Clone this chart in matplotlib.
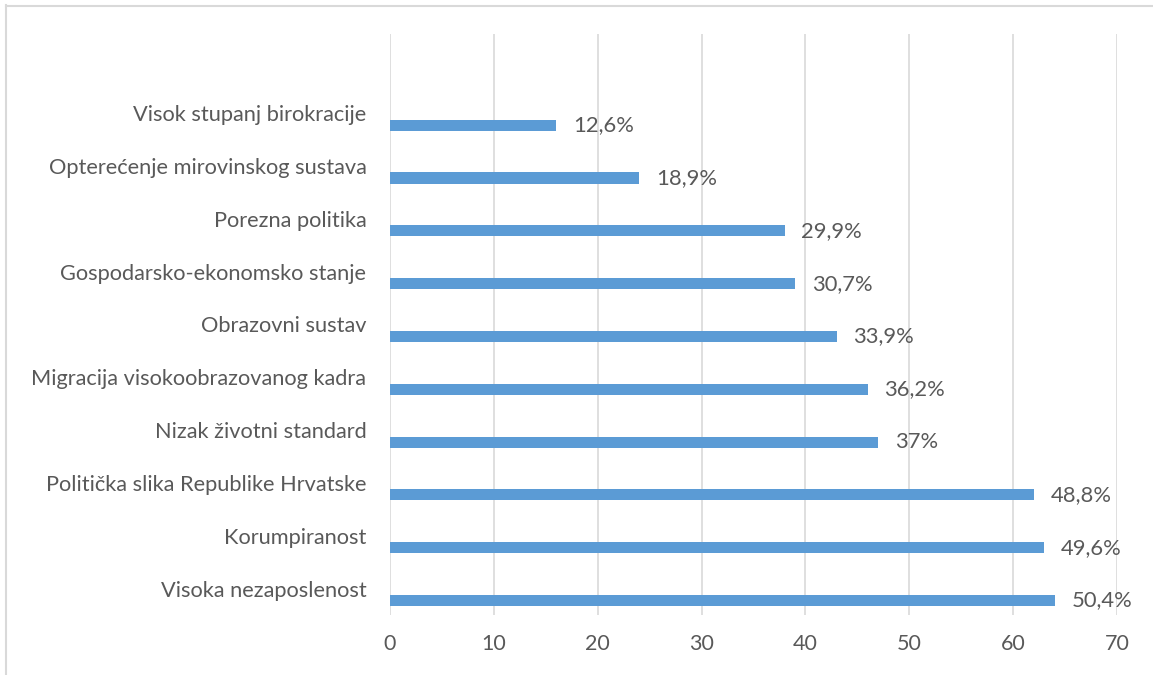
import matplotlib
matplotlib.use("Agg")
import matplotlib.pyplot as plt
from matplotlib.lines import Line2D

categories = [
    "Visoka nezaposlenost",
    "Korumpiranost",
    "Politička slika Republike Hrvatske",
    "Nizak životni standard",
    "Migracija visokoobrazovanog kadra",
    "Obrazovni sustav",
    "Gospodarsko-ekonomsko stanje",
    "Porezna politika",
    "Opterećenje mirovinskog sustava",
    "Visok stupanj birokracije",
]
values = [64, 63, 62, 47, 46, 43, 39, 38, 24, 16]
labels = ["50,4%", "49,6%", "48,8%", "37%", "36,2%", "33,9%", "30,7%", "29,9%", "18,9%", "12,6%"]
xticks = [0, 10, 20, 30, 40, 50, 60, 70]

plt.rcParams['font.family'] = ['Lato', 'DejaVu Sans']
text_color = "#595959"

fig = plt.figure(figsize=(11.53, 6.75), dpi=100)
ax = fig.add_axes([390/1153, 1 - 615/675, (1117-390)/1153, (615-34)/675])

pos = list(range(len(categories)))
bar_offset = 0.227
ax.barh([p - bar_offset for p in pos], values, height=0.21, color="#5B9BD5", zorder=3)

for p, v, lab in zip(pos, values, labels):
    ax.annotate(lab, (v, p - bar_offset), xytext=(12, 0), textcoords="offset points",
                va="center", ha="left", fontsize=15.8, color=text_color)

ax.set_xlim(0, 70)
ax.set_ylim(-0.5, 10.5)
ax.set_xticks(xticks)
ax.set_xticklabels([str(t) for t in xticks], fontsize=15.5, color=text_color)
ax.set_yticks(pos)
ax.set_yticklabels(categories, fontsize=15.7, color=text_color)
ax.tick_params(axis="both", length=0)
ax.tick_params(axis="x", pad=14)
ax.tick_params(axis="y", pad=17)
ax.grid(axis="x", color="#D9D9D9", linewidth=1.2, zorder=0)
for s in ax.spines.values():
    s.set_visible(False)

# outer chart border (left and top visible)
fig.add_artist(Line2D([6/1153, 6/1153], [0, 1 - 5/675], transform=fig.transFigure, color="#D9D9D9", linewidth=1.5))
fig.add_artist(Line2D([6/1153, 1], [1 - 6/675, 1 - 6/675], transform=fig.transFigure, color="#D9D9D9", linewidth=1.5))

fig.savefig("out.png", dpi=100)
